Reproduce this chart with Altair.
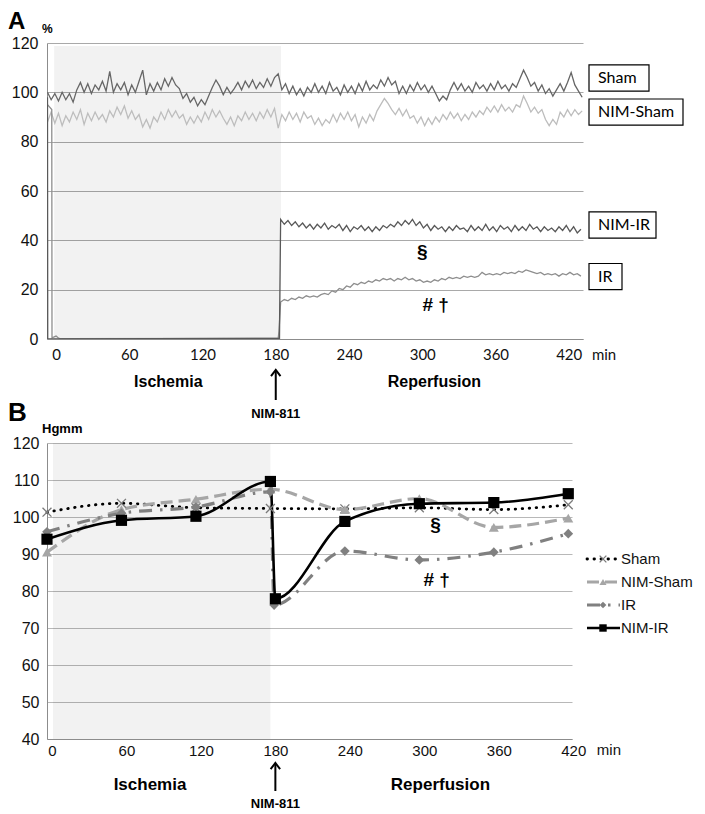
import altair as alt
import pandas as pd

# ---------------- Panel A: flow traces (%) ----------------
A_T0, A_DT = -7, 3          # time grid of the traces (min)
sham_a = [100, 97, 99.5, 96.5, 100, 97, 99.5, 96, 101, 104,
          100, 103.5, 99.5, 103, 101, 104.5, 100.5, 108.5, 100, 103.5,
          101, 104, 99, 103, 100, 104.5, 109, 99, 103.5, 100.5,
          104, 101, 105.5, 102.5, 106, 103, 101.5, 97.5, 99.5, 96,
          98, 94.5, 97, 95, 98.5, 102, 105, 102.5, 99, 102,
          99.5, 101.5, 104, 101, 104.5, 102, 105, 101.5, 104, 102,
          105.5, 102.5, 106, 107.5, 101, 103.5, 99.5, 102.5, 99, 101.5,
          98.5, 102, 100, 103.5, 100, 102.5, 99.5, 104, 100.5, 102,
          99, 103, 100, 102.5, 99.5, 103.5, 100.5, 104.5, 101, 103,
          101.5, 105, 102.5, 106, 103, 104.5, 99.5, 102.5, 99.5, 103,
          100.5, 104, 101, 103, 100, 102.5, 99.5, 96.5, 98.5, 97,
          101, 104, 101, 103.5, 100.5, 102.5, 100, 104, 101.5, 103,
          100.5, 103.5, 101, 104.5, 101.5, 103, 100.5, 103.5, 102, 105.5,
          109, 106, 102.5, 104, 100.5, 103, 99.5, 101.5, 98.5, 101,
          103.5, 100.5, 104, 108, 103, 100.5, 98]
nimsham_a = [88, 92, 87.5, 91.5, 86.5, 90.5, 88, 92, 89, 93,
             87, 91.5, 88.5, 92, 89, 91, 88, 92.5, 90, 94,
             91, 94.5, 89.5, 92.5, 89, 91, 86, 89, 85.5, 90,
             88, 92, 89, 93, 90, 92.5, 89.5, 91, 87, 90,
             87.5, 90.5, 88, 92, 89, 93, 90, 92.5, 89.5, 87,
             90, 86.5, 90.5, 88.5, 92, 89, 91.5, 88.5, 92, 89.5,
             93, 90, 93.5, 85.5, 91, 88.5, 92, 89, 91.5, 88,
             92, 89.5, 90.5, 87, 89.5, 86.5, 89, 87.5, 91, 88,
             91.5, 89, 92, 88.5, 91, 86, 90, 87.5, 91, 88.5,
             92.5, 95, 97.5, 95.5, 93, 91, 93.5, 90.5, 93, 89.5,
             90.5, 87.5, 90, 86.5, 89.5, 87, 90, 88, 91, 89,
             92, 89.5, 91.5, 88.5, 91, 89, 92, 90, 92.5, 91,
             94, 92, 94.5, 92, 95, 92.5, 94, 92, 95, 94,
             98.5, 95.5, 92, 94, 91.5, 93, 89, 86.5, 89, 87,
             92, 90, 93, 90.5, 93, 91, 92.5]
POST_T0 = 184
nimir_post_a = [48.5, 46.5, 48, 46, 47.5, 45.5, 47, 45, 46.5, 44.5,
                46.5, 45, 47, 44.5, 46, 45, 46.5, 44, 46, 43.5,
                45.5, 44.5, 46, 44, 45.5, 43.5, 45.5, 44, 46, 45,
                46.5, 45.5, 47.5, 46, 48, 46.5, 48.5, 46, 47.5, 45,
                46.5, 44, 46, 44.5, 45.5, 43.5, 45.5, 44, 46, 44.5,
                45, 43.5, 46, 44, 45.5, 44, 46.5, 44, 45.5, 43.5,
                46, 44.5, 45.5, 43.5, 46, 44, 45.5, 44, 46.5, 44.5,
                45.5, 43.5, 45.5, 44, 45, 43.5, 45.5, 44, 46, 43.5,
                45.5, 43, 44.5]
ir_post_a = [15, 16, 15.5, 16.5, 16, 17, 16.5, 17.5, 17, 17.5,
             17, 18, 18.5, 18, 19.5, 19, 20.5, 20, 21.5, 21,
             22.5, 22, 23, 22.5, 23.5, 23, 24, 23.5, 24.5, 24,
             24.5, 23.5, 24.5, 24, 25, 24, 24.5, 23.5, 24, 23,
             23.5, 23, 24, 23.5, 24.5, 24, 25, 24.5, 25, 24.5,
             25.5, 25, 25.5, 25, 25.5, 27, 26, 26.5, 26, 26.5,
             26, 27, 26.5, 27, 26.5, 27.5, 27, 28, 27.5, 27,
             26.5, 27, 26, 26.5, 26, 26.5, 25.5, 26.5, 26, 27,
             26, 26.5, 25.5]
nimir_pre_t = [-7, -6.8, 183]
nimir_pre_v = [98, 0, 0.3]
ir_pre_t = [-7, -3.5, -3.3, 0, 2, 4, 182, 182.6, 183.2]
ir_pre_v = [95, 93, 0.5, 1.2, 0.4, 0.1, 0.3, 3, 8]

series_a = ["NIM-Sham", "Sham", "IR", "NIM-IR"]
colors_a = ["#bdbdbd", "#666666", "#8e8e8e", "#595959"]

box_labels = ["Sham", "NIM-Sham", "NIM-IR", "IR"]
box_level = [105.8, 92.0, 46.2, 25.3]

# ---------------- Panel B: blood pressure (Hgmm) ----------------
series_b = ["Sham", "NIM-Sham", "IR", "NIM-IR"]
t_b = {
    "Sham": [0, 60, 120, 180, 240, 300, 360, 420],
    "NIM-Sham": [0, 60, 120, 180, 240, 300, 360, 420],
    "IR": [0, 60, 120, 180, 183, 240, 300, 360, 420],
    "NIM-IR": [0, 60, 120, 180, 184, 240, 300, 360, 420],
}
v_b = {
    "Sham": [101.3, 103.7, 102.5, 102.3, 102.2, 102.5, 102.0, 103.3],
    "NIM-Sham": [90.5, 102.0, 104.8, 107.5, 102.0, 105.0, 97.2, 99.7],
    "IR": [96.0, 101.0, 102.7, 106.8, 76.2, 90.8, 88.4, 90.5, 95.5],
    "NIM-IR": [94.0, 99.1, 100.2, 109.6, 77.9, 98.8, 103.6, 103.9, 106.3],
}
ticks_min = [0, 60, 120, 180, 240, 300, 360, 420]

# ---------------- build tables ----------------
rows = []
def add(name, ts, vs):
    for t, v in zip(ts, vs):
        rows.append({"series": name, "t": t, "v": v})

add("Sham", [A_T0 + A_DT * i for i in range(len(sham_a))], sham_a)
add("NIM-Sham", [A_T0 + A_DT * i for i in range(len(nimsham_a))], nimsham_a)
add("NIM-IR", nimir_pre_t + [POST_T0 + A_DT * i for i in range(len(nimir_post_a))],
    nimir_pre_v + nimir_post_a)
add("IR", ir_pre_t + [POST_T0 + A_DT * i for i in range(len(ir_post_a))],
    ir_pre_v + ir_post_a)
df_a = pd.DataFrame(rows)

rows_b = []
for s in series_b:
    for t, v in zip(t_b[s], v_b[s]):
        rows_b.append({"series": s, "t": t, "v": v})
df_b = pd.DataFrame(rows_b)

# ---------------- fonts / sizes ----------------
W_A, W_B, H = 536, 525, 296
DOM_A = [-7.4, 431.7]
DOM_B = [0, 423]
K_A = W_A / (DOM_A[1] - DOM_A[0])
SANS = "Liberation Sans, Arial, sans-serif"
NARROW = "Liberation Sans Narrow, Arial Narrow, Liberation Sans, sans-serif"
CAL = "Lato, Carlito, Calibri, sans-serif"

# ================= Panel A =================
xA = alt.Scale(domain=DOM_A, nice=False, zero=False)
yA = alt.Scale(domain=[0, 120], nice=False)
axXA = alt.Axis(values=ticks_min, grid=False, ticks=False, domainColor="#8c8c8c",
                labelFont=CAL, labelFontSize=15, labelColor="#111", labelPadding=8,
                title=None, labelFlush=False)
axYA = alt.Axis(values=[0, 20, 40, 60, 80, 100, 120], grid=True, gridColor="#a9a9a9",
                ticks=False, domainColor="#8c8c8c", labelFont=SANS, labelFontSize=16,
                labelColor="#111", labelPadding=9, title=None)

shadeA = alt.Chart(pd.DataFrame({"t0": [-1.6], "t1": [184.3], "v0": [0], "v1": [118.8]})).mark_rect(
    color="black", opacity=0.05).encode(
    x=alt.X("t0:Q", scale=xA, axis=axXA), x2="t1:Q",
    y=alt.Y("v0:Q", scale=yA, axis=axYA), y2="v1:Q")

linesA = []
for s, c in zip(series_a, colors_a):
    linesA.append(alt.Chart(df_a).transform_filter(alt.datum.series == s).mark_line(
        color=c, strokeWidth=1.3, clip=True).encode(
        x=alt.X("t:Q", scale=xA, axis=axXA), y=alt.Y("v:Q", scale=yA, axis=axYA)))

box_t0 = DOM_A[0] + (589 - 47) / K_A
box_w_px = [60, 94, 67, 33]
df_box = pd.DataFrame({
    "label": box_labels, "v": box_level,
    "t0": [box_t0] * 4,
    "t1": [box_t0 + w / K_A for w in box_w_px],
    "tt": [box_t0 + 9 / K_A] * 4,
})
df_box["v0"] = df_box["v"] - 5.3
df_box["v1"] = df_box["v"] + 5.3
boxA = alt.Chart(df_box).mark_rect(fill="white", stroke="black", strokeWidth=1.2).encode(
    x=alt.X("t0:Q", scale=xA, axis=axXA), x2="t1:Q",
    y=alt.Y("v0:Q", scale=yA, axis=axYA), y2="v1:Q")
boxTxtA = alt.Chart(df_box).mark_text(align="left", baseline="middle", font=CAL,
                                      fontSize=16, color="black").encode(
    x=alt.X("tt:Q", scale=xA, axis=axXA), y=alt.Y("v:Q", scale=yA, axis=axYA), text="label:N")

sigA = alt.Chart(pd.DataFrame({"t": [300, 311], "v": [35.3, 13.8], "s": ["§", "# †"]})).mark_text(
    font=SANS, fontWeight="bold", fontSize=19, baseline="middle").encode(
    x=alt.X("t:Q", scale=xA, axis=axXA), y=alt.Y("v:Q", scale=yA, axis=axYA), text="s:N")

phaseA = alt.Chart(pd.DataFrame({"t": [92, 310], "s": ["Ischemia", "Reperfusion"]})).mark_text(
    font=SANS, fontWeight="bold", fontSize=16, baseline="middle").encode(
    x=alt.X("t:Q", scale=xA, axis=axXA), y=alt.value(339), text="s:N")
drugA = alt.Chart(pd.DataFrame({"t": [180], "s": ["NIM-811"]})).mark_text(
    font=SANS, fontWeight="bold", fontSize=13, baseline="middle").encode(
    x=alt.X("t:Q", scale=xA, axis=axXA), y=alt.value(371), text="s:N")
arrowA = alt.Chart(pd.DataFrame({"t": [180]})).mark_rule(color="black", strokeWidth=2).encode(
    x=alt.X("t:Q", scale=xA, axis=axXA), y=alt.value(328), y2=alt.value(357))
headA = alt.Chart(pd.DataFrame({"t": [180]})).mark_point(
    shape="M-1,1.3L0,0L1,1.3", filled=False, stroke="black", strokeWidth=2, size=90, opacity=1).encode(
    x=alt.X("t:Q", scale=xA, axis=axXA), y=alt.value(327))
minA = alt.Chart(pd.DataFrame({"t": [439], "s": ["min"]})).mark_text(
    font=CAL, fontSize=15, align="left", baseline="middle", color="#111").encode(
    x=alt.X("t:Q", scale=xA, axis=axXA), y=alt.value(312), text="s:N")
letterA = alt.Chart(pd.DataFrame({"s": ["A"]})).mark_text(
    font=SANS, fontWeight="bold", fontSize=24, align="left", baseline="top").encode(
    x=alt.value(-39), y=alt.value(-33), text="s:N")
unitA = alt.Chart(pd.DataFrame({"s": ["%"]})).mark_text(
    font=SANS, fontWeight="bold", fontSize=12, align="left", baseline="middle").encode(
    x=alt.value(-5), y=alt.value(-14), text="s:N")

panelA = alt.layer(shadeA, *linesA, boxA, boxTxtA, sigA, phaseA, drugA, arrowA, headA,
                   minA, letterA, unitA).properties(width=W_A, height=H)

# ================= Panel B =================
xB = alt.Scale(domain=DOM_B, nice=False, zero=False)
yB = alt.Scale(domain=[40, 120], nice=False)
axXB = alt.Axis(values=ticks_min, grid=False, ticks=False, domainColor="#8c8c8c",
                labelFont=NARROW, labelFontSize=15, labelColor="#111", labelPadding=4,
                labelOffset=5, title=None, labelFlush=False)
axYB = alt.Axis(values=[40, 50, 60, 70, 80, 90, 100, 110, 120], grid=True, gridColor="#b8b8b8",
                ticks=False, domainColor="#8c8c8c", labelFont=NARROW, labelFontSize=16,
                labelColor="#111", labelPadding=8, title=None)

shadeB = alt.Chart(pd.DataFrame({"t0": [4.8], "t1": [180], "v0": [40], "v1": [120]})).mark_rect(
    color="black", opacity=0.05).encode(
    x=alt.X("t0:Q", scale=xB, axis=axXB), x2="t1:Q",
    y=alt.Y("v0:Q", scale=yB, axis=axYB), y2="v1:Q")

line_style = {
    "Sham": dict(color="black", strokeWidth=2.8, strokeDash=[0.5, 6.5], strokeCap="round"),
    "NIM-Sham": dict(color="#a6a6a6", strokeWidth=3.2, strokeDash=[12, 6]),
    "IR": dict(color="#808080", strokeWidth=3.2, strokeDash=[13, 8, 2.5, 8]),
    "NIM-IR": dict(color="black", strokeWidth=2.6),
}
pt_style = {
    "Sham": dict(shape="M-1,-1L1,1M-1,1L1,-1", filled=False, stroke="#7a7a7a", strokeWidth=1.3, size=80, opacity=1),
    "NIM-Sham": dict(shape="triangle-up", filled=True, color="#a6a6a6", size=100, opacity=1),
    "IR": dict(shape="diamond", filled=True, color="#808080", size=95, opacity=1),
    "NIM-IR": dict(shape="square", filled=True, color="black", size=125, opacity=1),
}
leg_pt_size = {"Sham": 45, "NIM-Sham": 50, "IR": 45, "NIM-IR": 55}

linesB, ptsB = [], []
for s in series_b:
    base = alt.Chart(df_b).transform_filter(alt.datum.series == s)
    enc = dict(x=alt.X("t:Q", scale=xB, axis=axXB), y=alt.Y("v:Q", scale=yB, axis=axYB))
    linesB.append(base.mark_line(interpolate="monotone", **line_style[s]).encode(**enc))
    ptsB.append(base.mark_point(**pt_style[s]).encode(**enc))

sigB = alt.Chart(pd.DataFrame({"t": [313, 314], "v": [97.8, 83.1], "s": ["§", "# †"]})).mark_text(
    font=SANS, fontWeight="bold", fontSize=19, baseline="middle").encode(
    x=alt.X("t:Q", scale=xB, axis=axXB), y=alt.Y("v:Q", scale=yB, axis=axYB), text="s:N")
phaseB = alt.Chart(pd.DataFrame({"t": [83, 317], "s": ["Ischemia", "Reperfusion"]})).mark_text(
    font=NARROW, fontWeight="bold", fontSize=17, baseline="middle").encode(
    x=alt.X("t:Q", scale=xB, axis=axXB), y=alt.value(342), text="s:N")
drugB = alt.Chart(pd.DataFrame({"t": [184], "s": ["NIM-811"]})).mark_text(
    font=NARROW, fontWeight="bold", fontSize=13, baseline="middle").encode(
    x=alt.X("t:Q", scale=xB, axis=axXB), y=alt.value(361), text="s:N")
arrowB = alt.Chart(pd.DataFrame({"t": [184]})).mark_rule(color="black", strokeWidth=2).encode(
    x=alt.X("t:Q", scale=xB, axis=axXB), y=alt.value(321), y2=alt.value(348))
headB = alt.Chart(pd.DataFrame({"t": [184]})).mark_point(
    shape="M-1,1.3L0,0L1,1.3", filled=False, stroke="black", strokeWidth=2, size=90, opacity=1).encode(
    x=alt.X("t:Q", scale=xB, axis=axXB), y=alt.value(320))
minB = alt.Chart(pd.DataFrame({"t": [443], "s": ["min"]})).mark_text(
    font=NARROW, fontSize=15, align="left", baseline="middle", color="#111").encode(
    x=alt.X("t:Q", scale=xB, axis=axXB), y=alt.value(307), text="s:N")
letterB = alt.Chart(pd.DataFrame({"s": ["B"]})).mark_text(
    font=SANS, fontWeight="bold", fontSize=26, align="left", baseline="top").encode(
    x=alt.value(-39), y=alt.value(-43), text="s:N")
unitB = alt.Chart(pd.DataFrame({"s": ["Hgmm"]})).mark_text(
    font=NARROW, fontWeight="bold", fontSize=13, align="left", baseline="middle").encode(
    x=alt.value(-5), y=alt.value(-14), text="s:N")

mainB = alt.layer(shadeB, *linesB, *ptsB, sigB, phaseB, drugB, arrowB, headB, minB, letterB, unitB)

# custom legend for panel B
leg_df = pd.DataFrame({"series": series_b})
yL = alt.Y("series:N", scale=alt.Scale(type="point", domain=series_b, range=[116, 185], padding=0),
           axis=None)
leg_layers = []
for s in series_b:
    lb = alt.Chart(leg_df).transform_filter(alt.datum.series == s)
    leg_layers.append(lb.mark_rule(**line_style[s]).encode(x=alt.value(540), x2=alt.value(573), y=yL))
    ps = dict(pt_style[s])
    ps["size"] = leg_pt_size[s]
    leg_layers.append(lb.mark_point(**ps).encode(x=alt.value(556), y=yL))
leg_layers.append(alt.Chart(leg_df).mark_text(align="left", baseline="middle", font=NARROW,
                                              fontSize=15, color="#111").encode(
    x=alt.value(574), y=yL, text="series:N"))
legB = alt.layer(*leg_layers)

panelB = alt.layer(mainB, legB).resolve_scale(y="independent").properties(width=W_B, height=H)

chart = alt.vconcat(panelA, panelB, spacing=104, bounds="flush").properties(
    padding={"top": 2, "left": 0, "right": 0, "bottom": 0}).configure_view(stroke=None)

chart.save("out.html", embed_options={"renderer": "svg", "actions": False})
